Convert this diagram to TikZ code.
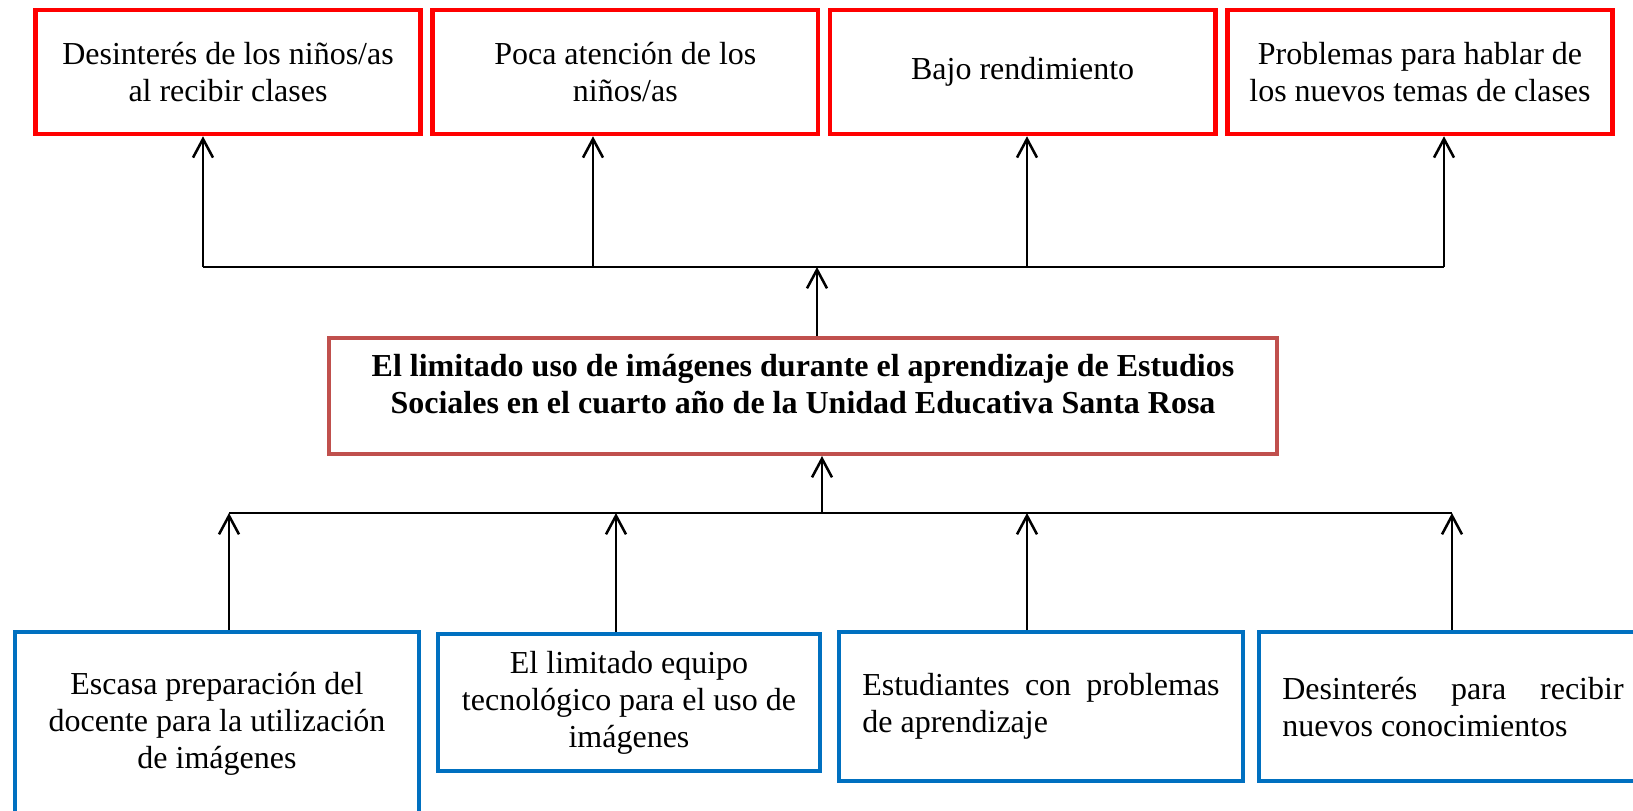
\documentclass[tikz,border=0pt]{standalone}
\usepackage{fontspec}
\setmainfont{Liberation Serif}
\definecolor{efred}{RGB}{255,0,0}
\definecolor{cablue}{RGB}{0,112,192}
\definecolor{prred}{RGB}{192,80,77}
\usepackage{tikz}
\usetikzlibrary{arrows.meta}

\begin{document}
\begin{tikzpicture}[x=0.375pt, y=-0.375pt, node distance=149pt, inner sep=0pt,
  font=\fontsize{12}{13.9}\selectfont,
  efecto/.style={draw=efred, line width=1.7pt, minimum width=144.5pt, minimum height=46.5pt, align=center},
  causa/.style={draw=cablue, line width=1.5pt, align=center},
  problema/.style={draw=prred, line width=1.5pt, minimum width=355.5pt, minimum height=43.5pt, align=center,
    font=\fontsize{12}{13.9}\selectfont\bfseries},
  flecha/.style={-{Straight Barb[length=7pt,width=7.5pt]}, line width=0.95pt},
  bus/.style={line width=1.1pt}]
  \useasboundingbox (0,0) rectangle (1633,811);

  % efectos
  \node[efecto] (T1) at (228,72) {Desinterés de los niños/as\\al recibir clases};
  \node[efecto] (T2) [right of=T1] {Poca atención de los\\niños/as};
  \node[efecto] (T3) [right of=T2] {Bajo rendimiento};
  \node[efecto] (T4) [right of=T3] {Problemas para hablar de\\los nuevos temas de clases};

  % problema
  \node[problema] (P) at (803,396) {El limitado uso de imágenes durante el aprendizaje de Estudios\\Sociales en el cuarto año de la Unidad Educativa Santa Rosa\\[-4.9pt]\mbox{}};

  % causas
  \node[causa, minimum width=151.5pt, minimum height=69pt] (B1) at (217,724) {Escasa preparación del\\docente para la utilización\\de imágenes};
  \node[causa, minimum width=143.5pt, minimum height=51.5pt] (B2) [right of=B1, node distance=154.5pt, yshift=8pt] {El limitado equipo\\tecnológico para el uso de\\imágenes};
  \node[causa, text width=134pt, inner xsep=8.6pt, minimum height=56pt, align=flush left] (B3) [right of=B2, node distance=154.5pt, yshift=-1.5pt] {Estudiantes\hfill con\hfill problemas\\de aprendizaje};
  \node[causa, text width=128pt, inner xsep=8.6pt, minimum height=56pt, align=flush left] (B4) [right of=B3, node distance=154.5pt] {Desinterés\hfill para\hfill recibir\\nuevos conocimientos};

  \coordinate (a1) at (203,267);
  \coordinate (a2) at (593,267);
  \coordinate (a3) at (1027,267);
  \coordinate (a4) at (1444,267);
  \coordinate (ap) at (817,267);
  \coordinate (c1) at (229,513);
  \coordinate (c2) at (616,513);
  \coordinate (c3) at (1027,513);
  \coordinate (c4) at (1452,513);
  \coordinate (cp) at (822,513);

  \draw[bus] (a1) -- (a4);
  \draw[bus] (c1) -- (c4);
  \foreach \i in {1,...,4}
    \draw[flecha] (a\i) -- (a\i |- T\i.south);
  \draw[flecha] (P.north -| ap) -- (ap);
  \draw[flecha] (cp) -- (P.south -| cp);
  \foreach \i in {1,...,4}
    \draw[flecha] (B\i.north -| c\i) -- (c\i);
\end{tikzpicture}
\end{document}
